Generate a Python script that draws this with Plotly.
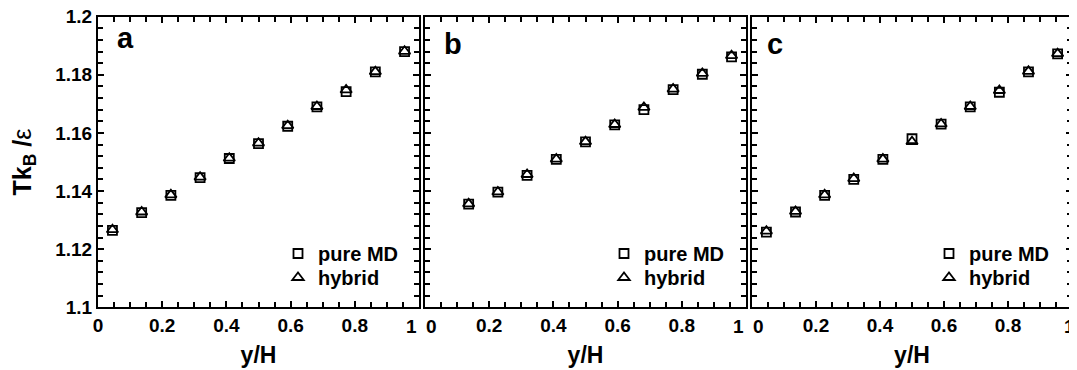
import plotly.graph_objects as go

# ---- data ----
x_ac = [0.045, 0.136, 0.227, 0.318, 0.409, 0.5, 0.591, 0.682, 0.773, 0.864, 0.955]
x_b = [0.136, 0.227, 0.318, 0.409, 0.5, 0.591, 0.682, 0.773, 0.864, 0.955]

a_md = [1.1265, 1.1326, 1.1385, 1.1446, 1.1512, 1.1563, 1.1623, 1.1690, 1.1742, 1.1810, 1.1880]
a_hy = [1.1267, 1.1328, 1.1387, 1.1448, 1.1513, 1.1565, 1.1625, 1.1691, 1.1748, 1.1811, 1.1881]

b_md = [1.1355, 1.1396, 1.1454, 1.1509, 1.1569, 1.1628, 1.1680, 1.1749, 1.1802, 1.1862]
b_hy = [1.1356, 1.1397, 1.1457, 1.1510, 1.1570, 1.1629, 1.1688, 1.1751, 1.1805, 1.1866]

c_md = [1.1259, 1.1328, 1.1385, 1.1440, 1.1509, 1.1580, 1.1630, 1.1690, 1.1740, 1.1810, 1.1872]
c_hy = [1.1262, 1.1330, 1.1387, 1.1443, 1.1510, 1.1570, 1.1631, 1.1691, 1.1746, 1.1812, 1.1873]

panel_labels = ["a", "b", "c"]
series_names = ["pure MD", "hybrid"]
x_ticks = [0, 0.2, 0.4, 0.6, 0.8, 1]
y_ticks = [1.1, 1.12, 1.14, 1.16, 1.18, 1.2]

FONT = "Liberation Sans, Arial, sans-serif"
OFF = 8  # page body margin
W, H = 1077 - OFF, 370 - OFF

def fx(px):
    return (px - OFF) / W

def fy(py):
    return 1 - (py - OFF) / H

fig = go.Figure()

panels = [(x_ac, a_md, a_hy), (x_b, b_md, b_hy), (x_ac, c_md, c_hy)]
leg_x = [278, 604, 929]
leg_y = [234, 258]
layout = dict(
    width=W, height=H, margin=dict(l=0, r=0, t=0, b=0, autoexpand=False),
    paper_bgcolor="white", plot_bgcolor="white", showlegend=True,
    font=dict(family=FONT, color="black"),
)

n = 0
for i, (xs, md, hy) in enumerate(panels):
    ax = "" if i == 0 else str(i + 1)
    for j, (ys, sym, sz) in enumerate([(md, "square-open", 9), (hy, "triangle-up-open", 10)]):
        n += 1
        lg = "legend" if n == 1 else "legend%d" % n
        fig.add_trace(go.Scatter(
            x=xs, y=ys, mode="markers", name="<b>%s</b>" % series_names[j],
            marker=dict(symbol=sym, size=sz, color="black", line=dict(width=1.8, color="black")),
            xaxis="x" + ax, yaxis="y" + ax, legend=lg))
        layout[lg] = dict(x=fx(leg_x[i]), y=fy(leg_y[j]), xanchor="left", yanchor="top",
                          bgcolor="rgba(0,0,0,0)", borderwidth=0, itemwidth=30,
                          font=dict(family=FONT, size=20, color="black"))

px_dom = [(98, 419), (425, 746), (752, 1072)]
Y_TOP, Y_BOT = 16.7, 307.3
ydom = [fy(Y_BOT), fy(Y_TOP)]

tickfont = dict(family=FONT, size=19, color="black")

annotations = []
letter_pos = [(115, 20), (442, 26), (765, 26)]
for i, (l, r) in enumerate(px_dom):
    ax = "" if i == 0 else str(i + 1)
    if i == 0:
        ttext = ["0", "0.2", "0.4", "0.6", "0.8", ""]
    else:
        ttext = ["", "0.2", "0.4", "0.6", "0.8", ""]
    common = dict(showline=True, linewidth=2, linecolor="black", mirror="ticks",
                  ticks="inside", ticklen=6, tickwidth=1.5, tickcolor="black",
                  showgrid=False, zeroline=False, tickfont=tickfont, automargin=False,
                  ticklabeloverflow="allow")
    layout["xaxis" + ax] = dict(
        domain=[fx(l), fx(r)], range=[0, 1], anchor="y" + ax,
        tickvals=x_ticks, ticktext=["<b>%s</b>" % t if t else "" for t in ttext],
        minor=dict(dtick=0.05, tick0=0, ticks="inside", ticklen=5, tickwidth=1.5, tickcolor="black"),
        title=dict(text="<b>y/H</b>", font=dict(family=FONT, size=23, color="black"), standoff=12),
        **common)
    layout["yaxis" + ax] = dict(
        domain=ydom, range=[1.1, 1.2], anchor="x" + ax,
        tickvals=y_ticks,
        ticktext=["<b>%s</b>" % ("%g" % v) for v in y_ticks] if i == 0 else [""] * len(y_ticks),
        minor=dict(dtick=0.004, tick0=1.1, ticks="inside", ticklen=5, tickwidth=1.5, tickcolor="black"),
        **common)
    if i == 0:
        layout["yaxis"]["title"] = dict(text="<b>Tk<sub>B</sub> /</b>ε",
                                        font=dict(family=FONT, size=25, color="black"), standoff=23)
    # panel letter
    lx, ly = letter_pos[i]
    annotations.append(dict(text="<b>%s</b>" % panel_labels[i], xref="paper", yref="paper",
                            x=fx(lx), y=fy(ly), xanchor="left", yanchor="top", showarrow=False,
                            font=dict(family=FONT, size=29, color="black")))
    # boundary tick labels
    right_x = fx(r) if i < 2 else 1.0
    annotations.append(dict(text="<b>1</b>", xref="paper", yref="paper", x=right_x, y=fy(Y_BOT),
                            xanchor="right", yanchor="top", yshift=-7, xshift=0, showarrow=False,
                            font=tickfont))
    if i in (1, 2):
        annotations.append(dict(text="<b>0</b>", xref="paper", yref="paper", x=fx(l), y=fy(Y_BOT),
                                xanchor="left", yanchor="top", yshift=-7, xshift=-1, showarrow=False,
                                font=tickfont))

layout["annotations"] = annotations

fig.update_layout(**layout)
fig.write_html("out.html")
